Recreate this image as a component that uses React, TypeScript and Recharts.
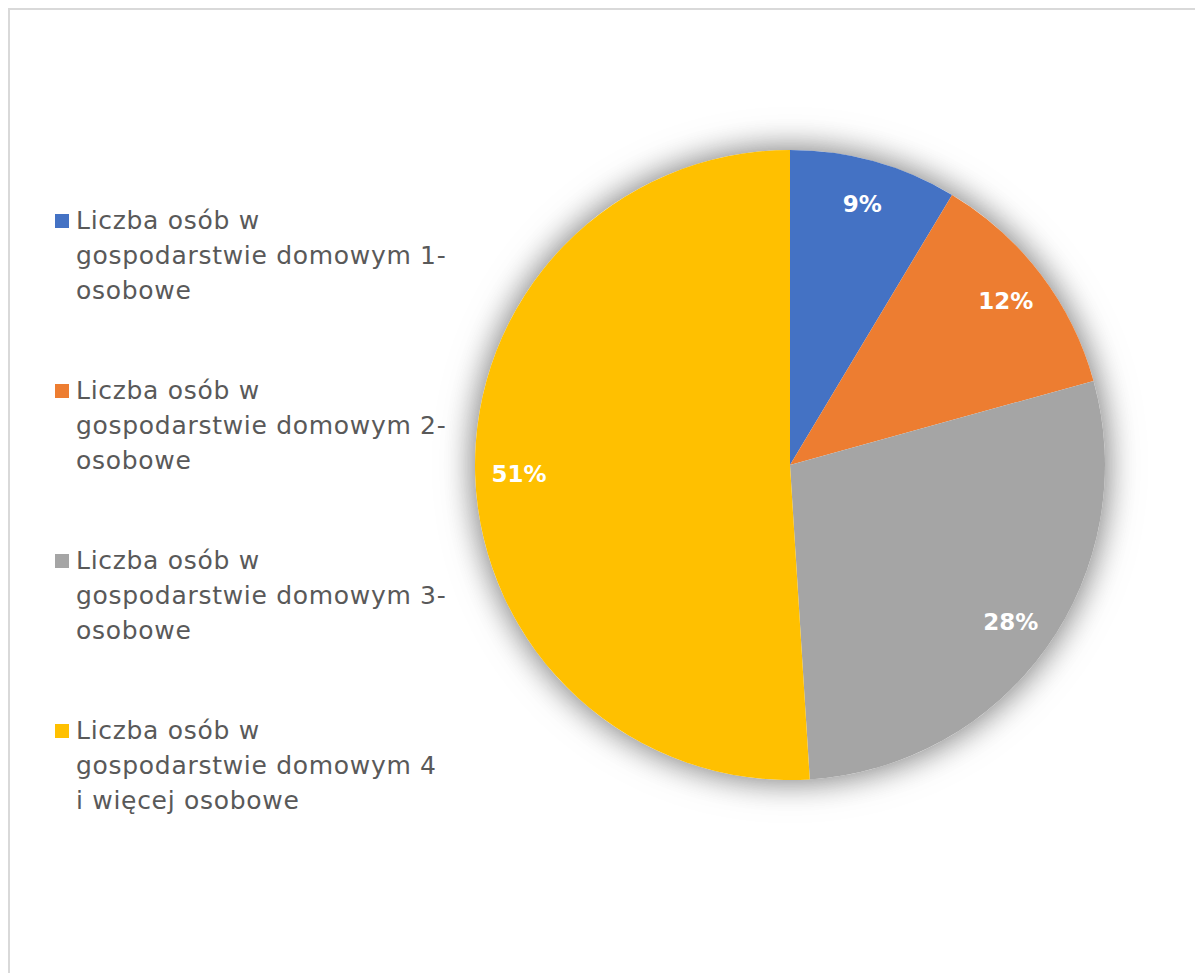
import React from 'react';
import { PieChart, Pie, Cell, Legend } from 'recharts';

const categories = [
  'Liczba osób w\ngospodarstwie domowym 1-\nosobowe',
  'Liczba osób w\ngospodarstwie domowym 2-\nosobowe',
  'Liczba osób w\ngospodarstwie domowym 3-\nosobowe',
  'Liczba osób w\ngospodarstwie domowym 4\ni więcej osobowe',
];
const shares = [8.6, 12.1, 28.3, 51.0];
const colors = ['#4472C4', '#ED7D31', '#A5A5A5', '#FFC000'];

const data = categories.map((name, i) => ({ name, value: shares[i] }));
const shadowData = [{ name: 'shadow', value: 1 }];

const CX = 780;
const CY = 455;
const R = 315;
const RAD = Math.PI / 180;

const renderLabel = (props: any) => {
  const { cx, cy, midAngle, outerRadius, percent } = props;
  const r = outerRadius - 44;
  const x = cx + r * Math.cos(-midAngle * RAD);
  const y = cy + r * Math.sin(-midAngle * RAD);
  return (
    <text
      x={x}
      y={y}
      fill="#FFFFFF"
      textAnchor="middle"
      dominantBaseline="central"
      fontFamily="'DejaVu Sans', sans-serif"
      fontWeight="bold"
      fontSize={23}
    >
      {`${Math.round(percent * 100)}%`}
    </text>
  );
};

const renderLegend = (props: any) => {
  const payload = (props.payload || []).filter((p: any) => p.type !== 'none');
  const items = payload.length === categories.length ? payload.map((p: any) => p.value) : categories;
  return (
    <div style={{ fontFamily: "'DejaVu Sans', sans-serif", color: '#595959' }}>
      {items.map((label: string, i: number) => (
        <div key={i} style={{ display: 'flex', alignItems: 'flex-start', marginBottom: 65 }}>
          <div
            style={{
              width: 14,
              height: 14,
              background: colors[i],
              marginTop: 11,
              marginRight: 7,
              flex: '0 0 auto',
            }}
          />
          <div
            style={{
              whiteSpace: 'pre-line',
              fontSize: 25,
              letterSpacing: 0.7,
              lineHeight: '35px',
            }}
          >
            {label}
          </div>
        </div>
      ))}
    </div>
  );
};

export default function App() {
  return (
    <div
      style={{
        width: 1193,
        height: 963,
        borderTop: '2px solid #D9D9D9',
        borderLeft: '2px solid #D9D9D9',
        background: '#FFFFFF',
        position: 'relative',
      }}
    >
      <style>{`.pie-shadow { filter: drop-shadow(0px 0px 16px rgba(0,0,0,0.30)); }`}</style>
      <PieChart width={1193} height={963} margin={{ top: 0, right: 0, bottom: 0, left: 0 }}>
        <Pie
          className="pie-shadow"
          data={shadowData}
          dataKey="value"
          cx={CX}
          cy={CY}
          outerRadius={R}
          startAngle={90}
          endAngle={-270}
          stroke="none"
          fill="#FFFFFF"
          legendType="none"
          isAnimationActive={false}
        />
        <Pie
          data={data}
          dataKey="value"
          nameKey="name"
          cx={CX}
          cy={CY}
          outerRadius={R}
          startAngle={90}
          endAngle={-270}
          stroke="none"
          label={renderLabel}
          labelLine={false}
          isAnimationActive={false}
        >
          {data.map((d, i) => (
            <Cell key={d.name} fill={colors[i]} />
          ))}
        </Pie>
        <Legend
          layout="vertical"
          content={renderLegend}
          wrapperStyle={{ position: 'absolute', left: 45, top: 193, width: 440 }}
        />
      </PieChart>
    </div>
  );
}
